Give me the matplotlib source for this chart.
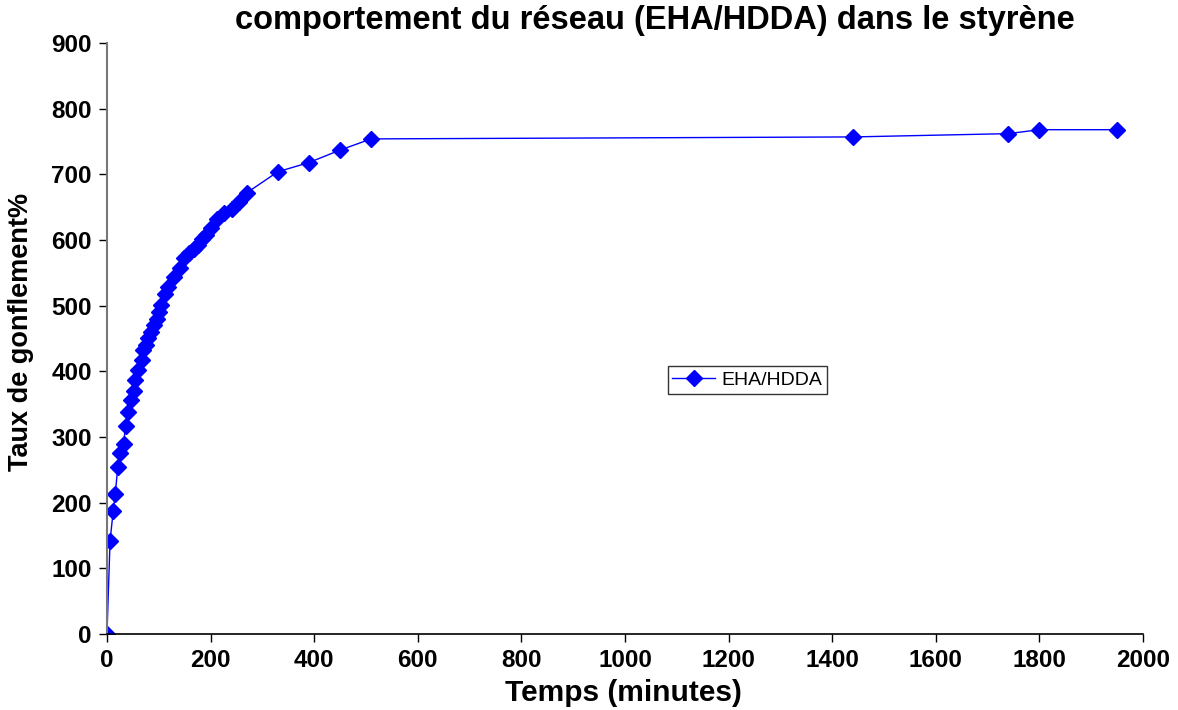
import numpy as np
import matplotlib
matplotlib.use('Agg')
from matplotlib import pyplot as plt

plt.rcParams['font.family'] = ['Liberation Sans', 'DejaVu Sans']

# temps (minutes) et taux de gonflement (%)
temps = [0, 6, 12, 16, 21, 26, 32, 36, 40, 46, 52, 55, 60, 67, 70, 75, 80, 85,
         91, 96, 100, 105, 112, 118, 130, 141, 149, 159, 168, 176, 184, 192,
         201, 212, 226, 241, 255, 270, 330, 390, 450, 510, 1440, 1740, 1800, 1950]
taux = [0, 142, 187, 214, 254, 275, 290, 317, 338, 356, 370, 387, 402, 418, 432,
        440, 451, 460, 470, 479, 491, 501, 518, 528, 544, 557, 573, 581, 586,
        593, 601, 608, 619, 632, 641, 647, 658, 672, 704, 718, 737, 754, 757,
        762, 768, 768]

fig = plt.figure(figsize=(11.78, 7.10), dpi=100)
ax = fig.add_axes([0.0908, 0.107, 0.8795, 0.8324])

ax.plot(temps, taux, '-', color='#0000FF', linewidth=1, marker='D',
        markersize=8, markerfacecolor='#0000FF', markeredgecolor='#0000FF',
        label='EHA/HDDA')

ax.set_xlim(0, 2000)
ax.set_ylim(0, 900)
ax.set_xticks(np.arange(0, 2001, 200))
ax.set_yticks(np.arange(0, 901, 100))

for s in ['top', 'right']:
    ax.spines[s].set_visible(False)
ax.spines['left'].set_color('#777777')
ax.spines['left'].set_linewidth(1.5)
ax.spines['bottom'].set_linewidth(1.2)

ax.tick_params(direction='out', length=6, width=1, labelsize=17.5, pad=5)
for lab in ax.get_xticklabels() + ax.get_yticklabels():
    lab.set_fontweight('bold')

fig.text(0.529, 0.024, 'Temps (minutes)', ha='center', va='center',
         fontsize=21.5, fontweight='bold')
fig.text(0.018, 0.532, 'Taux de gonflement%', ha='center', va='center',
         rotation=90, fontsize=19.5, fontweight='bold')
fig.text(0.556, 0.971, 'comportement du réseau (EHA/HDDA) dans le styrène',
         ha='center', va='center', fontsize=23.5, fontweight='bold')

leg = ax.legend(loc='center', bbox_to_anchor=(0.618, 0.43), fontsize=14,
                frameon=True, fancybox=False, handlelength=2.2,
                borderpad=0.25, handletextpad=0.3)
leg.get_frame().set_edgecolor('black')
leg.get_frame().set_linewidth(1)

plt.savefig('out.png', dpi=100)
